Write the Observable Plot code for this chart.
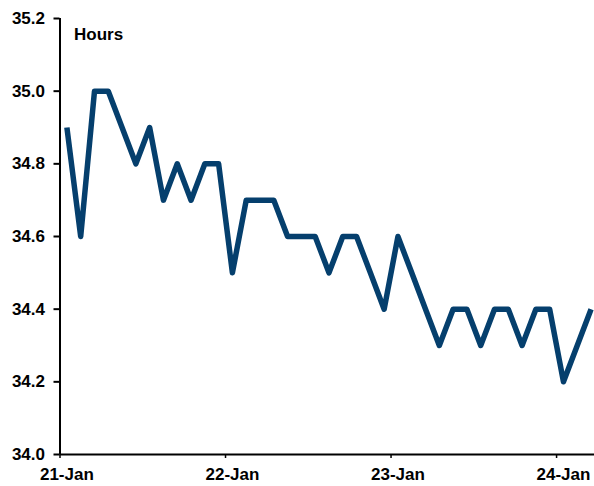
<!DOCTYPE html>
<html>
<head>
<meta charset="utf-8">
<script src="https://cdn.jsdelivr.net/npm/d3@7"></script>
<script src="https://cdn.jsdelivr.net/npm/@observablehq/plot@0.6"></script>
<style>
  html, body { margin: 0; padding: 0; background: #fff; }
  svg { display: block; }
</style>
</head>
<body>
<div id="chart"></div>
<script>
// Monthly average weekly hours, Jan 2021 – Mar 2024
const months = [
  "2021-01","2021-02","2021-03","2021-04","2021-05","2021-06","2021-07","2021-08","2021-09","2021-10","2021-11","2021-12",
  "2022-01","2022-02","2022-03","2022-04","2022-05","2022-06","2022-07","2022-08","2022-09","2022-10","2022-11","2022-12",
  "2023-01","2023-02","2023-03","2023-04","2023-05","2023-06","2023-07","2023-08","2023-09","2023-10","2023-11","2023-12",
  "2024-01","2024-02","2024-03"
];
const hours = [
  34.9, 34.6, 35.0, 35.0, 34.9, 34.8, 34.9, 34.7, 34.8, 34.7, 34.8, 34.8,
  34.5, 34.7, 34.7, 34.7, 34.6, 34.6, 34.6, 34.5, 34.6, 34.6, 34.5, 34.4,
  34.6, 34.5, 34.4, 34.3, 34.4, 34.4, 34.3, 34.4, 34.4, 34.3, 34.4, 34.4,
  34.2, 34.3, 34.4
];
const yTicks = [34.0, 34.2, 34.4, 34.6, 34.8, 35.0, 35.2];
const xTickLabels = ["21-Jan", "22-Jan", "23-Jan", "24-Jan"];
const unitLabel = "Hours";

// month index -> position in the middle of its month slot
const data = months.map((m, i) => ({month: m, idx: i + 0.5, value: hours[i]}));
const yearStarts = xTickLabels.map((_, k) => k * 12);
const labelPos = xTickLabels.map((_, k) => k * 12 + 0.5);

const font = "'Liberation Sans', Arial, sans-serif";

const chart = Plot.plot({
  width: 594,
  height: 486,
  marginLeft: 59.5,
  marginRight: 0,
  marginTop: 18,
  marginBottom: 32,
  style: {fontFamily: font, fontSize: "17px", fontWeight: "bold", color: "#000", background: "#fff"},
  x: {domain: [0, 38.75], axis: null},
  y: {domain: [34.0, 35.2], axis: null},
  marks: [
    Plot.axisY({ticks: yTicks, tickFormat: d => d.toFixed(1), tickSize: 6, tickPadding: 9, strokeWidth: 2, label: null, fontWeight: "bold"}),
    Plot.axisX({ticks: yearStarts, tickSize: 4, tickFormat: () => "", strokeWidth: 1.5, label: null}),
    Plot.axisX({ticks: labelPos, tickSize: 0, tickPadding: 13, tickFormat: (d, i) => xTickLabels[i], label: null, fontWeight: "bold"}),
    Plot.ruleY([34.0], {stroke: "#000", strokeWidth: 2}),
    Plot.ruleX([0], {stroke: "#000", strokeWidth: 2}),
    Plot.lineY(data, {x: "idx", y: "value", stroke: "#053f6d", strokeWidth: 5.5, strokeLinejoin: "round", strokeLinecap: "butt"}),
    Plot.text([unitLabel], {frameAnchor: "top-left", dx: 14, dy: 9, fontSize: 17, fontWeight: "bold", fill: "#000", textAnchor: "start", lineAnchor: "top"})
  ]
});
document.getElementById("chart").appendChild(chart);
</script>
</body>
</html>
